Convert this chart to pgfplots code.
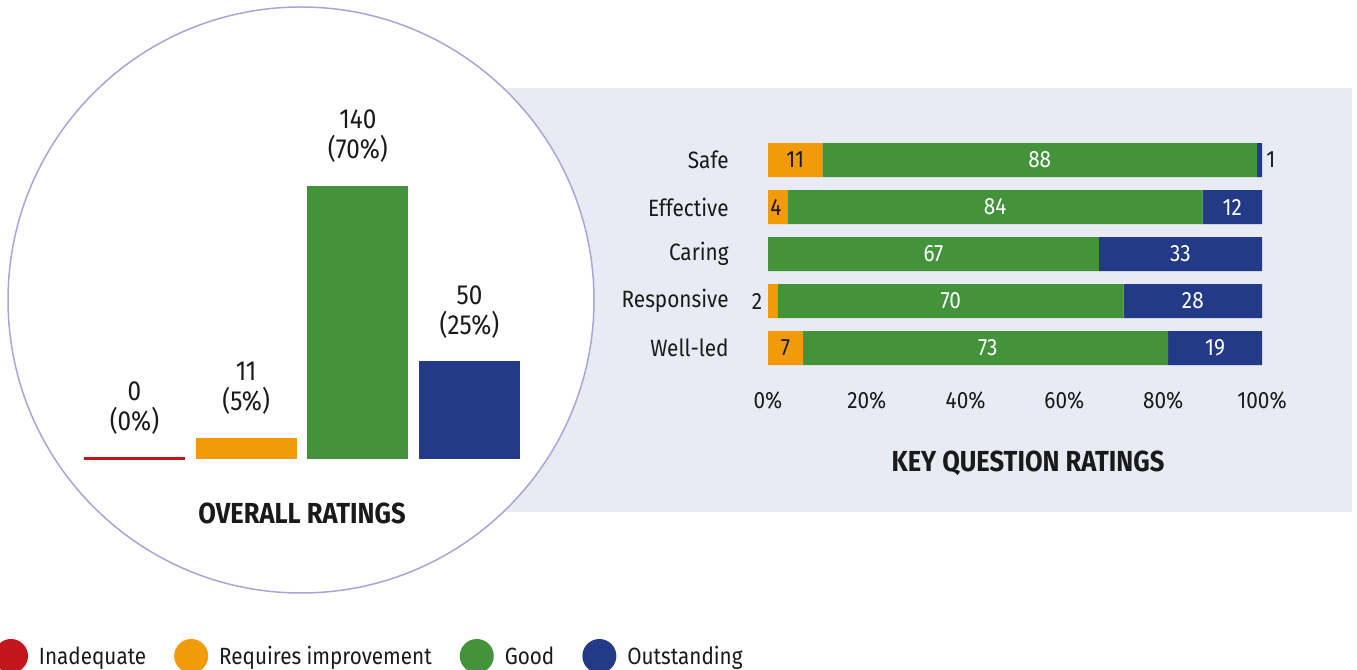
\documentclass[border=0pt]{standalone}
\usepackage{fontspec}
\setmainfont{Fira Sans}[FakeStretch=0.88]
\usepackage{pgfplots}
\pgfplotsset{compat=1.18}

\definecolor{cqcred}{HTML}{C3161C}
\definecolor{cqcorange}{HTML}{F39A0B}
\definecolor{cqcgreen}{HTML}{43933A}
\definecolor{cqcblue}{HTML}{233A88}
\definecolor{panel}{HTML}{E8EBF3}
\definecolor{ring}{HTML}{A9A6D6}
\definecolor{ink}{HTML}{1A1A1A}

\newcommand{\lab}{\fontsize{13.8}{15}\selectfont}
\newcommand{\cat}{\fontsize{11.8}{14}\selectfont}

\begin{document}
\begin{tikzpicture}[x=0.5pt,y=0.5pt]
\useasboundingbox (0,0) rectangle (1357,670);
% background shapes
\fill[panel] (500,158) rectangle (1352,582);
\draw[ring, fill=white, line width=0.75pt] (301,370) circle (293);

% overall ratings (counts)
\begin{axis}[
  at={(39.33pt,105.5pt)}, anchor=south west,
  scale only axis, width=223.33pt, height=136.5pt,
  ybar, bar width=50.5pt,
  xmin=-0.5, xmax=3.5, ymin=0, ymax=140,
  hide axis, clip=false,
  every node near coord/.append style={align=center, anchor=south, inner sep=0pt,
    yshift=11.5pt, font=\lab, text=ink},
]
\addplot[fill=cqcred, draw=cqcred, line width=1.5pt, bar shift=0pt,
  nodes near coords={0\\(0\%)}] coordinates {(0,0)};
\addplot[fill=cqcorange, draw=none, bar shift=0pt,
  nodes near coords={11\\(5\%)}] coordinates {(1,11)};
\addplot[fill=cqcgreen, draw=none, bar shift=0pt,
  nodes near coords={140\\(70\%)}] coordinates {(2,140)};
\addplot[fill=cqcblue, draw=none, bar shift=0pt,
  nodes near coords={50\\(25\%)}] coordinates {(3,50)};
\end{axis}

% key question ratings (percent)
\begin{axis}[
  at={(384pt,149.25pt)}, anchor=south west,
  scale only axis, width=247pt, height=117.5pt,
  xbar stacked, bar width=17pt,
  xmin=0, xmax=100, ymin=-0.5, ymax=4.5, y dir=reverse,
  ytick={0,...,4}, yticklabels={Safe,Effective,Caring,Responsive,Well-led},
  xtick={0,20,...,100}, xticklabels={0\%,20\%,40\%,60\%,80\%,100\%},
  axis line style={draw=none}, major tick length=0pt,
  yticklabel style={anchor=east, inner sep=0pt, xshift=-19.5pt, font=\cat, text=ink},
  xticklabel style={anchor=north, inner sep=0pt, yshift=-10pt, font=\cat, text=ink},
  clip=false,
]
\addplot[fill=cqcred, draw=none] coordinates {(0,0) (0,1) (0,2) (0,3) (0,4)};
\addplot[fill=cqcorange, draw=none] coordinates {(11,0) (4,1) (0,2) (2,3) (7.1,4)};
\addplot[fill=cqcgreen, draw=none] coordinates {(88,0) (84,1) (67,2) (70,3) (73.9,4)};
\addplot[fill=cqcblue, draw=none] coordinates {(1,0) (12,1) (33,2) (28,3) (19,4)};
\end{axis}

% segment labels
\begin{axis}[
  at={(384pt,149.25pt)}, anchor=south west,
  scale only axis, width=247pt, height=117.5pt,
  xmin=0, xmax=100, ymin=-0.5, ymax=4.5, y dir=reverse,
  hide axis, clip=false,
  every node near coord/.append style={anchor=center, inner sep=0pt, font=\cat},
]
\addplot[draw=none, nodes near coords, point meta=explicit symbolic,
  every node near coord/.append style={text=ink}]
  table[meta=lab] {
x y lab
5.5 0 11
101.8 0 1
1.6 1 4
-2.2 3 2
3.55 4 7
};
\addplot[draw=none, nodes near coords, point meta=explicit symbolic,
  every node near coord/.append style={text=white}]
  table[meta=lab] {
x y lab
55 0 88
46 1 84
94 1 12
33.5 2 67
83.5 2 33
37 3 70
86 3 28
44.5 4 73
90.5 4 19
};
\end{axis}

% legend
\begin{axis}[
  at={(-3pt,7pt)}, anchor=west,
  scale only axis, width=1pt, height=1pt,
  xmin=0, xmax=1, ymin=0, ymax=1, hide axis,
  legend columns=4, legend cell align=left,
  legend style={at={(0,0.5)}, anchor=west, draw=none, fill=none,
    inner sep=0pt, outer sep=0pt,
    nodes={inner sep=0pt, font=\fontsize{11.75}{14}\selectfont, text=ink},
    /tikz/every odd column/.append style={column sep=5.5pt},
    /tikz/every even column/.append style={column sep=14pt}},
  legend image code/.code={\fill[#1] (8.5pt,0.5pt) circle (8.5pt);},
]
\addlegendimage{fill=cqcred, draw=none}
\addlegendentry{Inadequate}
\addlegendimage{fill=cqcorange, draw=none}
\addlegendentry{Requires improvement}
\addlegendimage{fill=cqcgreen, draw=none}
\addlegendentry{Good}
\addlegendimage{fill=cqcblue, draw=none}
\addlegendentry{Outstanding}
\end{axis}

% titles
\node[font=\bfseries\fontsize{14.5}{16}\selectfont, text=ink] at (302,157) {OVERALL RATINGS};
\node[font=\bfseries\fontsize{14.5}{16}\selectfont, text=ink] at (1028,207) {KEY QUESTION RATINGS};
\end{tikzpicture}
\end{document}
